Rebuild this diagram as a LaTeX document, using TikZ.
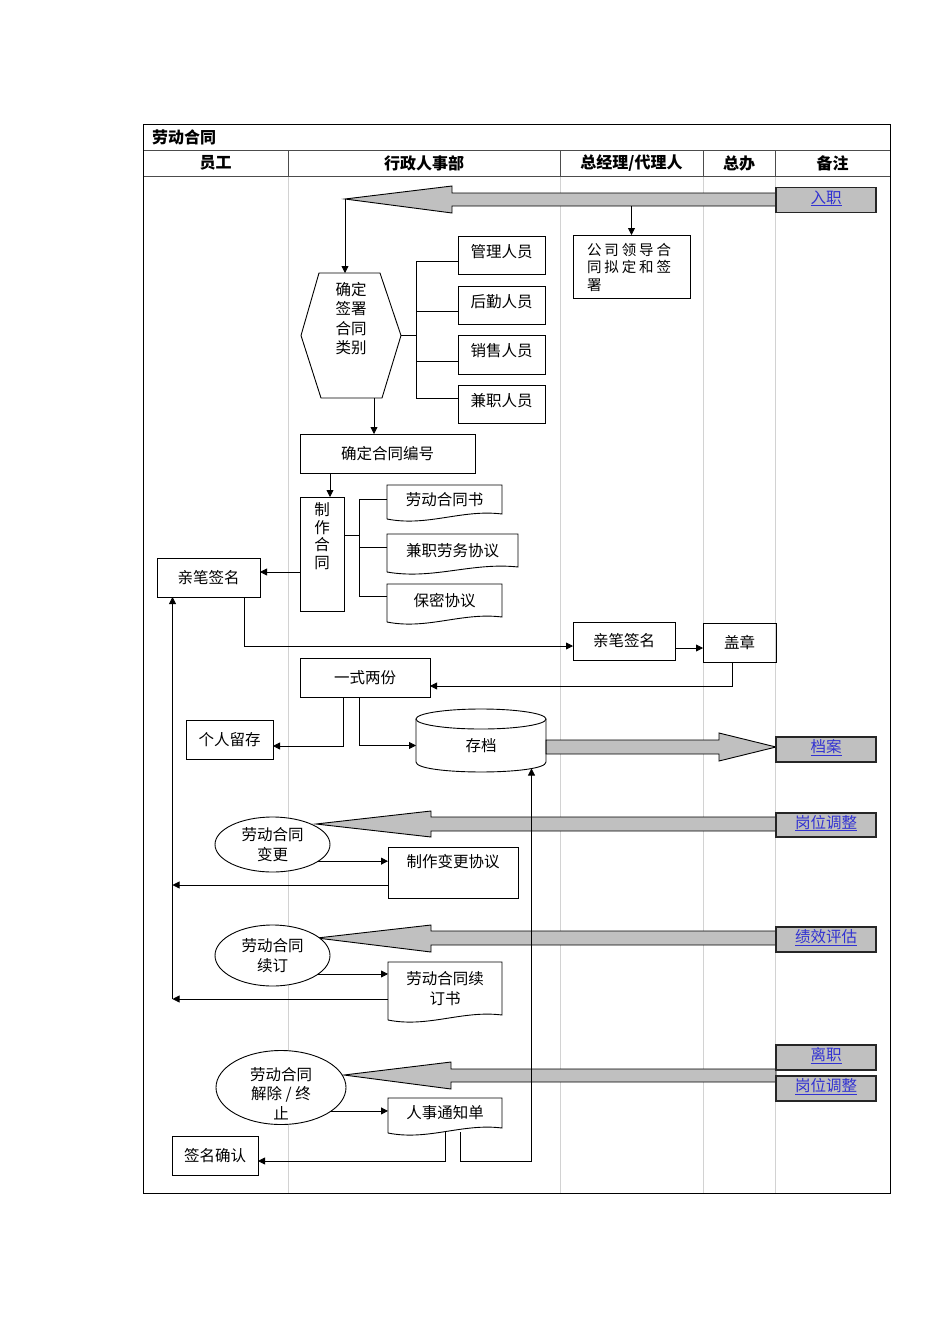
\documentclass[tikz,border=0pt]{standalone}
\usepackage{fontspec}
\setmainfont{Noto Sans CJK SC}
\newfontfamily\spcjk{Noto Sans CJK SC}[LetterSpace=20]
\usetikzlibrary{arrows.meta,shapes.geometric,calc}
\definecolor{lgray}{RGB}{192,192,192}
\definecolor{colgray}{RGB}{210,210,210}
\definecolor{linkblue}{RGB}{50,50,210}
\newcommand\txtf{\fontsize{15.5}{19.5}\selectfont}
\newcommand\hdrf{\fontsize{16}{19}\selectfont\bfseries}
\newcommand\lnk[1]{\underline{#1}}
\newcommand\docout[1]{%
  \draw[line width=0.9pt] ([yshift=-5pt]#1.south west) -- (#1.north west) -- (#1.north east) -- (#1.south east)
  .. controls ($(#1.south east)!0.35!(#1.south west)+(0,-5)$) and ($(#1.south east)!0.65!(#1.south west)+(0,13)$) .. ([yshift=-5pt]#1.south west);}
\begin{document}
\begin{tikzpicture}[x=1pt,y=-1pt,
  ln/.style={line width=0.8pt},
  arr/.style={line width=0.8pt,-{Triangle[length=7pt,width=7pt]}},
  box/.style={draw, line width=0.9pt, inner sep=0pt, outer sep=0pt, align=center, font=\txtf},
  upbox/.style={box, text height=12pt, text depth=8pt},
  txt/.style={inner sep=0pt, outer sep=0pt, align=center, font=\txtf},
  lnkbox/.style={draw=black!85, line width=1.3pt, fill=lgray, inner sep=0pt, outer sep=0pt, minimum width=100pt, minimum height=25pt, text=linkblue, font=\txtf, text height=12pt, text depth=6pt},
  ell/.style={draw, ellipse, fill=white, line width=0.9pt, inner sep=0pt, outer sep=0pt, align=center, font=\txtf},
  big/.style={draw, line width=0.9pt, fill=lgray},
  hdr/.style={inner sep=0pt, font=\hdrf},
  colline/.style={draw=colgray, line width=0.7pt}]
\useasboundingbox (0,0) rectangle (950,1344);
% table
\foreach \cx in {288,560,703,775} \draw[colline] (\cx,176) -- (\cx,1193);
\foreach \cx in {288,560,703,775} \draw[line width=0.8pt, draw=black!70] (\cx,150) -- (\cx,176);
\draw[line width=0.8pt, draw=black!70] (143,150) -- (890,150);
\draw[line width=0.8pt, draw=black!70] (143,176) -- (890,176);
\draw[line width=0.9pt] (143,124) rectangle (890,1193);
\node[hdr, anchor=west] (title) at (152,137.5) {劳动合同};
\node[hdr] (h1) at (215.5,163) {员工};
\node[hdr] (h2) at (424,163) {行政人事部};
\node[hdr] (h3) at (631.5,163) {总经理/代理人};
\node[hdr] (h4) at (739,163) {总办};
\node[hdr] (h5) at (832.5,163) {备注};

% big arrows
\draw[big] (776,193) -- (452,193) -- (452,186) -- (345,199) -- (452,213) -- (452,206) -- (776,206) -- cycle;
\draw[big] (546,740) -- (719,740) -- (719,733) -- (776,747) -- (719,761) -- (719,754) -- (546,754) -- cycle;
\draw[big] (777,817) -- (431,817) -- (431,811) -- (316,824) -- (431,837) -- (431,831) -- (777,831) -- cycle;
\draw[big] (777,931) -- (431,931) -- (431,925) -- (317,938) -- (431,952) -- (431,945) -- (777,945) -- cycle;
\draw[big] (776,1069) -- (451,1069) -- (451,1062) -- (344,1075) -- (451,1089) -- (451,1082) -- (776,1082) -- cycle;
\coordinate (tip1) at (345,199);
\coordinate (a1b) at (631.5,206);

% link boxes
\node[lnkbox] (ruzhi) at (826,200) {\lnk{入职}};
\node[lnkbox] (da) at (826,749.5) {\lnk{档案}};
\node[lnkbox, minimum height=24pt] (gw1) at (826,825) {\lnk{岗位调整}};
\node[lnkbox] (jx) at (826,939.5) {\lnk{绩效评估}};
\node[lnkbox] (lz) at (826,1057.5) {\lnk{离职}};
\node[lnkbox] (gw2) at (826,1088.5) {\lnk{岗位调整}};

% hexagon
\node[txt, minimum width=100pt, minimum height=125pt,
  label={[txt, yshift=17pt]center:确定\\签署\\合同\\类别}] (hex) at (351,335.5) {};
\draw[line width=0.9pt] (hex.west) -- ([xshift=18pt]hex.north west) -- ([xshift=-21pt]hex.north east) -- (hex.east)
  -- ([xshift=-19pt]hex.south east) -- ([xshift=20pt]hex.south west) -- cycle;
\draw[arr] (tip1) -- (tip1 |- hex.north);

% staff boxes
\node[upbox, minimum width=87pt, minimum height=38pt] (m1) at (501.5,255) {管理人员};
\node[upbox, minimum width=87pt, minimum height=38pt] (m2) at (501.5,305) {后勤人员};
\node[upbox, minimum width=87pt, minimum height=39pt] (m3) at (501.5,354.5) {销售人员};
\node[upbox, minimum width=87pt, minimum height=38pt] (m4) at (501.5,404) {兼职人员};
\draw[ln] (hex.east) -- ++(15,0);
\coordinate (m1w) at ([yshift=-6pt]m1.west);
\coordinate (m2w) at ([yshift=-6pt]m2.west);
\coordinate (m3w) at ([yshift=-6.5pt]m3.west);
\coordinate (m4w) at ([yshift=6pt]m4.west);
\draw[ln] (m1w) -- ++(-42,0) coordinate (hb1) -- (hb1 |- m4w) -- (m4w);
\draw[ln] (m2w) -- (hb1 |- m2w);
\draw[ln] (m3w) -- (hb1 |- m3w);

% GM box
\node[box, minimum width=117pt, minimum height=63pt,
  label={[txt, anchor=north west, align=left, font={\fontsize{14.5}{17.5}\spcjk}, xshift=14pt, yshift=-8pt]north west:公司领导合\\同拟定和签\\署}] (gs) at (631.5,266.5) {};
\draw[arr] (a1b) -- (gs.north);

% contract number
\node[box, minimum width=175pt, minimum height=39pt] (bh) at (387.5,453.5) {确定合同编号};
\coordinate (hexs) at ([xshift=23pt]hex.south);
\draw[arr] (hexs) -- (hexs |- bh.north);

% make contract
\node[box, minimum width=44pt, minimum height=114pt,
  label={[txt, yshift=18pt, font={\fontsize{15.5}{17.5}\selectfont}]center:制\\作\\合\\同}] (zz) at (322,554) {};
\coordinate (zzn) at ([xshift=8pt]zz.north);
\draw[arr] (zzn |- bh.south) -- (zzn);

% documents
\node[txt, minimum width=115pt, minimum height=29pt] (d1) at (444.5,499.5) {劳动合同书};
\node[txt, minimum width=131pt, minimum height=33pt] (d2) at (452.5,550.5) {兼职劳务协议};
\node[txt, minimum width=115pt, minimum height=33pt] (d3) at (444.5,600.5) {保密协议};
\docout{d1}\docout{d2}\docout{d3}
\coordinate (zze) at ([yshift=19pt]zz.east);
\draw[ln] (zze) -- ++(15,0);
\coordinate (d2w) at ([yshift=3.5pt]d2.west);
\coordinate (d3w) at ([yshift=4.5pt]d3.west);
\draw[ln] (d1.west) -- ++(-28,0) coordinate (br1) -- (br1 |- d3w) -- (d3w);
\draw[ln] (d2w) -- (br1 |- d2w);

% employee sign
\node[box, minimum width=103pt, minimum height=39pt] (qm1) at (208.5,577.5) {亲笔签名};
\coordinate (zzw) at ([yshift=-18pt]zz.west);
\draw[arr] (zzw) -- (zzw -| qm1.east);

% GM sign and stamp
\node[box, minimum width=102pt, minimum height=38pt] (qm2) at (624,641) {亲笔签名};
\node[box, minimum width=73pt, minimum height=39pt] (gz) at (739.5,642.5) {盖章};
\coordinate (qm1s) at ([xshift=35.5pt]qm1.south);
\coordinate (qm2w) at ([yshift=-5pt]qm2.west);
\draw[arr] (qm1s) |- (qm2w);
\coordinate (qm2e) at ([yshift=-7pt]qm2.east);
\draw[arr] (qm2e) -- (qm2e -| gz.west);

% two copies
\node[box, minimum width=130pt, minimum height=39pt] (ys) at (365,677.5) {一式两份};
\coordinate (gzs) at ([xshift=-7.5pt]gz.south);
\coordinate (yse) at ([yshift=-8.5pt]ys.east);
\draw[arr] (gzs) |- (yse);
\node[box, minimum width=87pt, minimum height=39pt] (gr) at (229.5,739.5) {个人留存};
\coordinate (ys1) at ([xshift=-21.5pt]ys.south);
\coordinate (gre) at ([yshift=-6.5pt]gr.east);
\draw[arr] (ys1) |- (gre);

% archive cylinder
\node[txt, minimum width=130pt, minimum height=53pt] (cd) at (481,745.5) {存档};
\draw[line width=0.9pt] (cd.north west) -- ([yshift=10pt]cd.south west)
  .. controls ([yshift=-3.3pt]cd.south west) and ([yshift=-3.3pt]cd.south east) .. ([yshift=10pt]cd.south east) -- (cd.north east);
\draw[line width=0.9pt] (cd.north) ellipse [x radius=65pt, y radius=10pt];
\coordinate (ys2) at ([xshift=-6pt]ys.south);
\draw[arr] (ys2) |- (cd.west);

% change
\node[ell, minimum width=115pt, minimum height=55pt] (e1) at (272.5,844.5) {劳动合同\\变更};
\node[box, minimum width=130pt, minimum height=51pt,
  label={[txt, anchor=north, yshift=-7pt]north:制作变更协议}] (bg) at (453,872.5) {};
\draw[arr] (e1.-20) -- (e1.-20 -| bg.west);

% renewal
\node[ell, minimum width=115pt, minimum height=61pt] (e2) at (272.5,955.5) {劳动合同\\续订};
\node[txt, minimum width=114pt, minimum height=53pt] (d4) at (445,988.5) {劳动合同续\\订书};
\docout{d4}
\draw[arr] (e2.-22) -- (e2.-22 -| d4.west);

% employee return line
\coordinate (emp) at ([xshift=15.5pt]qm1.south west);
\coordinate (bgw) at ([yshift=-12.5pt]bg.west);
\coordinate (d4w) at ([yshift=-10.5pt]d4.west);
\draw[arr] (bgw) -- (bgw -| emp);
\draw[arr] (d4w) -- (d4w -| emp);
\draw[arr] (d4w -| emp) -- (emp);

% termination
\node[ell, minimum width=130pt, minimum height=74pt,
  label={[txt, yshift=-6pt]center:劳动合同\\解除 / 终\\止}] (e3) at (281,1087.5) {};
\node[txt, minimum width=114pt, minimum height=30pt] (d5) at (445,1113) {人事通知单};
\docout{d5}
\draw[arr] (e3.-25) -- (e3.-25 -| d5.west);
\node[box, minimum width=86pt, minimum height=39pt] (qr) at (215,1155.5) {签名确认};
\coordinate (d5a) at ([yshift=-4pt]d5.south);
\coordinate (qre) at ([yshift=-5.5pt]qr.east);
\draw[arr] (d5a) |- (qre);
\coordinate (d5b) at ([xshift=15pt,yshift=-4pt]d5.south);
\coordinate (cdb) at ([xshift=-14.5pt,yshift=3.5pt]cd.south east);
\draw[arr] (d5b) -- (d5b |- qre) -- (cdb |- qre) -- (cdb);
\end{tikzpicture}
\end{document}
